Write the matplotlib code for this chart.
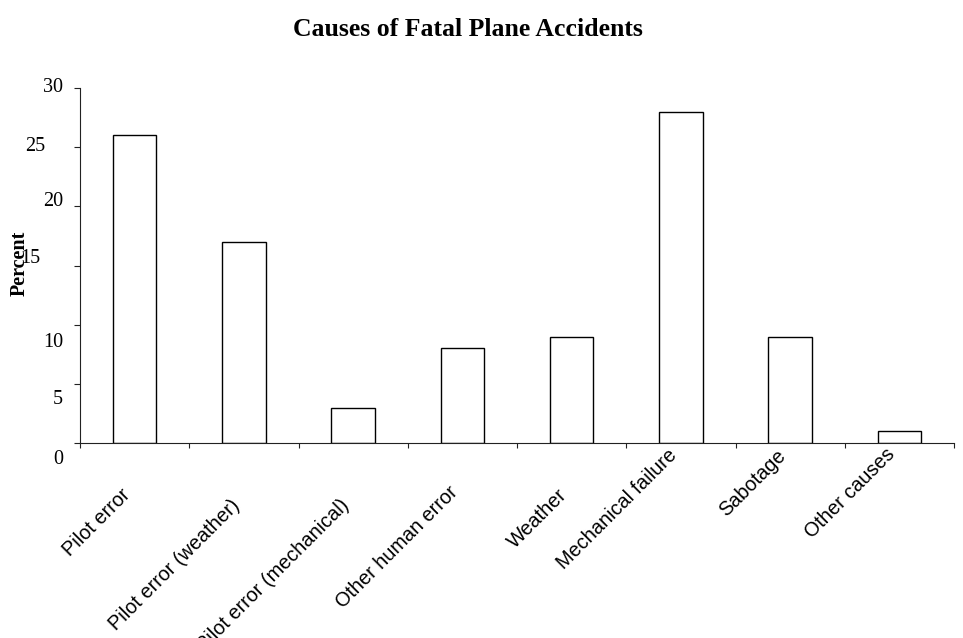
import matplotlib
matplotlib.use("Agg")
import matplotlib.pyplot as plt
import matplotlib.transforms as mtransforms
import numpy as np

causes = ["Pilot error", "Pilot error (weather)", "Pilot error (mechanical)",
          "Other human error", "Weather", "Mechanical failure", "Sabotage",
          "Other causes"]
percent = [26, 17, 3, 8, 9, 28, 9, 1]
y_ticks = [0, 5, 10, 15, 20, 25, 30]
y_labels = ["0", "5", "10", "15", "20", "25", "30"]

# the original has its labels knocked about a bit, offsets in pixels
y_label_dx = [-17, -17, -17, -40, -17, -35, -17]
y_label_dy = [16, 16, 18, -7, -5, -1, -1]
x_label_drop = [42, 53, 53, 40, 42, 3, 3, 2]

serif = "Liberation Serif"
sans = "Liberation Sans"

fig = plt.figure(figsize=(9.63, 6.38), dpi=100)
ax = fig.add_axes([80 / 963, 1 - 443 / 638, 874 / 963, 355 / 638])

x = np.arange(len(causes))
ax.bar(x, percent, width=0.4, color="white", edgecolor="black", linewidth=1.0)

ax.set_xlim(-0.5, len(causes) - 0.5)
ax.set_ylim(0, 30)
for s in ["top", "right"]:
    ax.spines[s].set_visible(False)
for s in ["left", "bottom"]:
    ax.spines[s].set_linewidth(0.8)
    ax.spines[s].set_color("#222222")

ax.set_xticks(np.arange(-0.5, len(causes), 1))
ax.set_xticklabels([])
ax.set_yticks(y_ticks)
ax.set_yticklabels([])
ax.tick_params(axis="x", direction="out", length=3.6, width=0.8, color="#222222")
ax.tick_params(axis="y", direction="out", length=4.3, width=0.8, color="#222222")

for val, lab, dx, dy in zip(y_ticks, y_labels, y_label_dx, y_label_dy):
    tr = ax.get_yaxis_transform() + mtransforms.ScaledTranslation(dx / 100, -dy / 100, fig.dpi_scale_trans)
    ax.text(0, val, lab, transform=tr, ha="right", va="center",
            fontfamily=serif, fontsize=14.5)

for i, (lab, drop) in enumerate(zip(causes, x_label_drop)):
    tr = ax.transData + mtransforms.ScaledTranslation(-14 / 100, -drop / 100, fig.dpi_scale_trans)
    ax.text(i, 0, lab, transform=tr, rotation=45, rotation_mode="anchor",
            ha="right", va="top", fontfamily=sans, fontsize=14.3)

fig.text(20 / 963, 1 - 263 / 638, "Percent", rotation=90, ha="center", va="center",
         fontfamily=serif, fontsize=14.5, fontweight="bold")
fig.text(468 / 963, 1 - 30 / 638, "Causes of Fatal Plane Accidents", ha="center",
         va="center", fontfamily=serif, fontsize=18.5, fontweight="bold")

fig.savefig("out.png", dpi=100)
